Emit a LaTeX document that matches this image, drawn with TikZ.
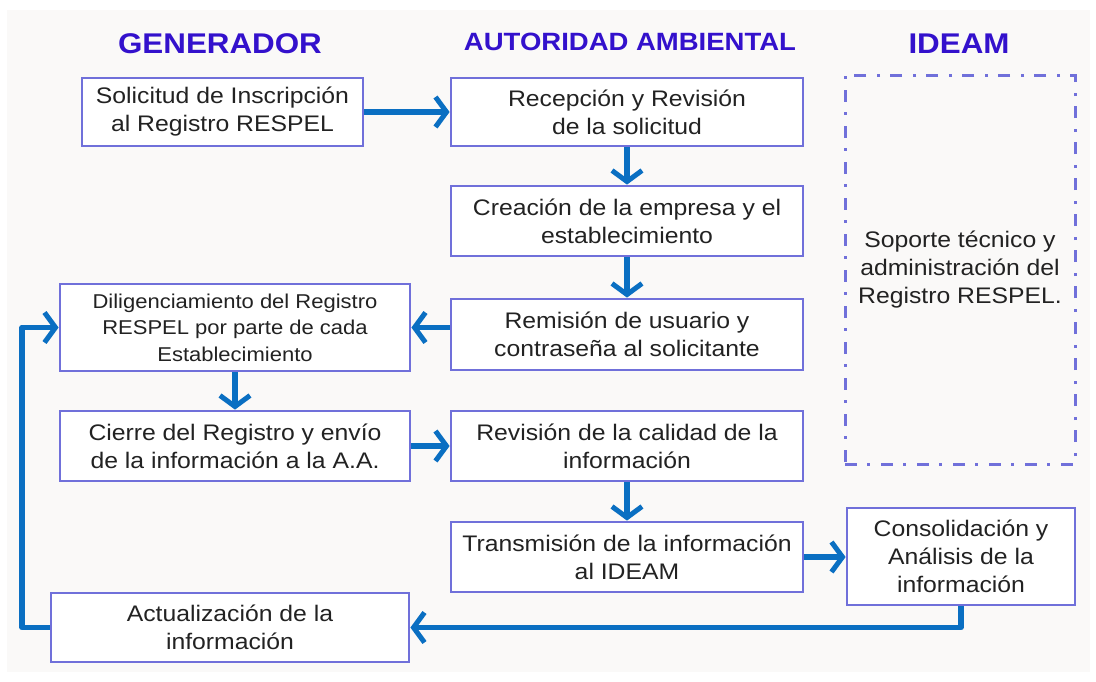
\documentclass[tikz,border=0pt]{standalone}
\usepackage{fontspec}
\setmainfont{Liberation Sans}[FakeStretch=1.1]
\usetikzlibrary{arrows.meta}
\definecolor{hdr}{HTML}{3311CC}
\definecolor{boxc}{HTML}{7070DA}
\definecolor{arrc}{HTML}{0A6FC2}
\definecolor{bgc}{HTML}{FAF9F8}
\definecolor{txt}{HTML}{222222}
\tikzset{
  hdrtext/.style={text=hdr, font=\bfseries\fontsize{28.5}{32}\selectfont, inner sep=0pt},
  procbox/.style={draw=boxc, line width=2.8pt, fill=white, align=center, text=txt,
    font=\fontsize{22.5}{28}\selectfont, inner sep=2pt},
  supbox/.style={draw=boxc, line width=3pt, align=center, text=txt,
    font=\fontsize{22.5}{28}\selectfont, dash pattern=on 12pt off 10pt on 3pt off 11pt},
  arr/.style={draw=arrc, line width=5.5pt, line join=round,
    -{Straight Barb[length=11pt,width=30pt,line width=5pt]}}
}
\begin{document}
\begin{tikzpicture}[x=1pt,y=-1pt]
\useasboundingbox (0,0) rectangle (1096,681);
\fill[white] (0,0) rectangle (1096,681);
\fill[bgc] (7,10) rectangle (1090,672);

\node[hdrtext] (hgen) at (220,44) {GENERADOR};
\node[hdrtext, font=\bfseries\fontsize{25}{30}\selectfont] (haut) at (630,42) {AUTORIDAD AMBIENTAL};
\node[hdrtext] (hide) at (959,44) {IDEAM};

\node[procbox, minimum width=281pt, minimum height=68pt] (sol) at (222.5,112) {Solicitud de Inscripción\\al Registro RESPEL};
\node[procbox, minimum width=352pt, minimum height=68pt] (rec) at (627,112) {Recepción y Revisión\\de la solicitud};
\node[procbox, minimum width=352pt, minimum height=70pt] (cre) at (627,221) {Creación de la empresa y el\\establecimiento};
\node[procbox, minimum width=352pt, minimum height=71pt] (rem) at (627,334.5) {Remisión de usuario y\\contraseña al solicitante};
\node[procbox, minimum width=350pt, minimum height=87pt, font=\fontsize{20}{26.5}\selectfont] (dil) at (235,327.5) {Diligenciamiento del Registro\\RESPEL por parte de cada\\Establecimiento};
\node[procbox, minimum width=350pt, minimum height=70pt] (cie) at (235,446) {Cierre del Registro y envío\\de la información a la A.A.};
\node[procbox, minimum width=352pt, minimum height=70pt] (rev) at (627,446) {Revisión de la calidad de la\\información};
\node[procbox, minimum width=352pt, minimum height=70pt] (tra) at (627,557) {Transmisión de la información\\al IDEAM};
\node[procbox, minimum width=228pt, minimum height=97pt] (con) at (961,556.5) {Consolidación y\\Análisis de la\\información};
\node[procbox, minimum width=358pt, minimum height=69pt] (act) at (230,627.5) {Actualización de la\\información};
\node[supbox, minimum width=230pt, minimum height=389pt] (sop) at (960,269.5) {Soporte técnico y\\administración del\\Registro RESPEL.};

\coordinate (lft) at (22,627.5);

\draw[arr] (sol.east) -- (rec.west);
\draw[arr] (rec.south) -- (cre.north);
\draw[arr] (cre.south) -- (rem.north);
\draw[arr] (dil.east -| rem.west) -- (dil.east);
\draw[arr] (dil.south) -- (cie.north);
\draw[arr] (cie.east) -- (rev.west);
\draw[arr] (rev.south) -- (tra.north);
\draw[arr] (tra.east) -- (con.west |- tra.east);
\draw[arr] (con.south) |- (act.east);
\draw[arr] (act.west) -- (lft) |- (dil.west);
\end{tikzpicture}
\end{document}
